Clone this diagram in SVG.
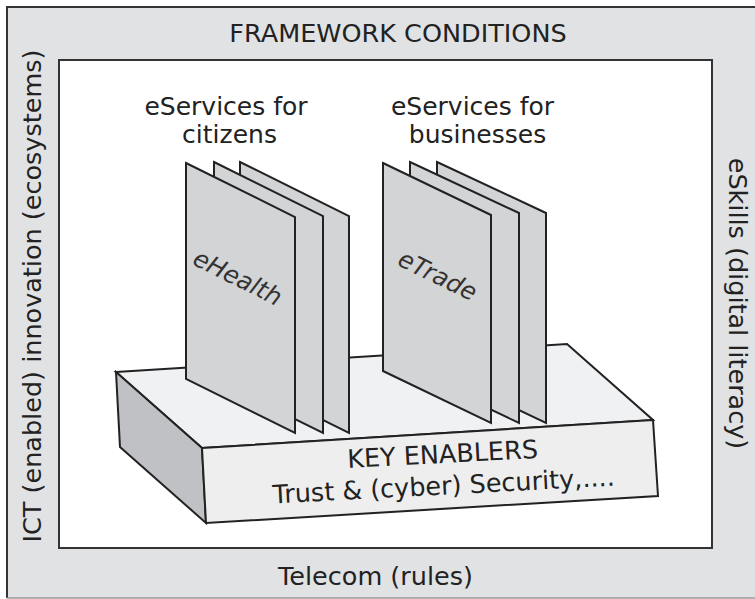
<svg xmlns="http://www.w3.org/2000/svg" width="755" height="599" viewBox="0 0 755 599">
<defs>
<style>
text{font-family:"DejaVu Sans","Verdana",sans-serif;fill:#222;}
.lbl{font-size:25.5px;text-anchor:middle;}
.ttl{font-size:25px;text-anchor:middle;}
.sheet{fill:#d3d4d6;stroke:#222;stroke-width:2;stroke-linejoin:miter;}
.edge{stroke:#222;stroke-width:2;stroke-linejoin:miter;}
.it{font-size:24.5px;font-style:italic;text-anchor:middle;fill:#333;}
</style>
</defs>
<rect width="755" height="599" fill="#ffffff"/>
<g id="frame">
<rect x="7" y="7" width="760" height="591" fill="#e1e2e4"/>
<line x1="6" y1="7" x2="755" y2="7" stroke="#333" stroke-width="2"/>
<line x1="7" y1="6" x2="7" y2="598" stroke="#333" stroke-width="2"/>
<line x1="7" y1="598" x2="755" y2="598" stroke="#999" stroke-width="1.5"/>
<text class="lbl" x="398" y="42">FRAMEWORK CONDITIONS</text>
<text class="lbl" transform="translate(41,296) rotate(-90)">ICT (enabled) innovation (ecosystems)</text>
<text class="lbl" transform="translate(729,303.5) rotate(90)">eSkills (digital literacy)</text>
<text class="lbl" x="375.5" y="585">Telecom (rules)</text>
</g>
<g id="inner">
<rect x="59" y="60" width="653" height="488" fill="#ffffff" stroke="#333" stroke-width="2"/>
</g>
<g id="key-enablers">
<polygon class="edge" fill="#f0f1f3" points="116,372 567,344 653,420 202,448"/>
<polygon class="edge" fill="#c0c1c4" points="116,372 202,448 206,523 120,447"/>
<polygon class="edge" fill="#eeeeef" points="202,448 653,420 658,496 206,523"/>
<text class="lbl" transform="translate(443,463) rotate(-3)">KEY ENABLERS</text>
<text class="lbl" transform="translate(444,494.5) rotate(-3)">Trust &amp; (cyber) Security,....</text>
</g>
<g id="citizens">
<text class="ttl" x="226" y="115">eServices for</text>
<text class="ttl" x="229.5" y="143">citizens</text>
<polygon class="sheet" points="240,162 349,216 349,433 240,379"/>
<polygon class="sheet" points="214,162 323,216 323,433 214,379"/>
<polygon class="sheet" points="186,163 295,217 295,433 186,379"/>
<text class="it" transform="translate(234,285) rotate(26.5)">eHealth</text>
</g>
<g id="businesses">
<text class="ttl" x="472.5" y="115">eServices for</text>
<text class="ttl" x="477.5" y="143">businesses</text>
<polygon class="sheet" points="437,162 546,213 546,423 437,371"/>
<polygon class="sheet" points="410,162 519,213 519,423 410,371"/>
<polygon class="sheet" points="383,163 491,215 491,423 383,371"/>
<text class="it" transform="translate(434,283) rotate(26)">eTrade</text>
</g>
<g id="connectors"></g>
</svg>
